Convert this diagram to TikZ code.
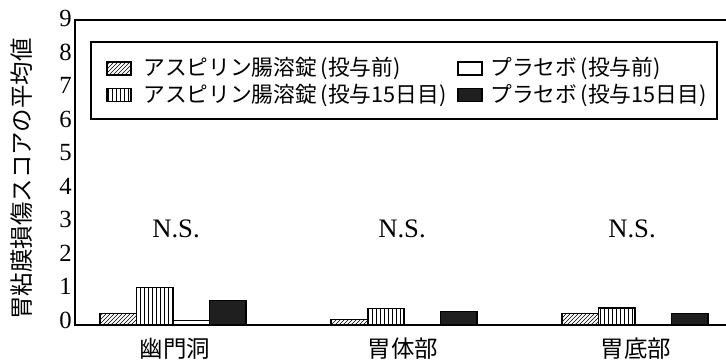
\documentclass[tikz,border=0pt]{standalone}
\usepackage{fontspec}
\setmainfont{Liberation Serif}
\newfontfamily\jpfont{Noto Sans CJK JP}
\usepackage{tikz}
\usetikzlibrary{patterns}

\begin{document}
\begin{tikzpicture}[x=0.75pt, y=0.75pt,
    hatchbar/.style={draw=black, line width=0.8pt, pattern=north east lines},
    stripebar/.style={draw=black, line width=0.8pt, pattern=vertical lines},
    whitebar/.style={draw=black, line width=0.8pt, fill=white},
    blackbar/.style={draw=black, line width=0.8pt, fill=black!88},
    ticklabel/.style={anchor=east, inner sep=0pt, font=\fontsize{18.5}{20}\selectfont},
    legtext/.style={anchor=west, inner sep=0pt, font=\jpfont\fontsize{16.3}{18}\selectfont},
    catlabel/.style={inner sep=0pt, font=\jpfont\fontsize{17.6}{20}\selectfont},
    nslabel/.style={inner sep=0pt, font=\fontsize{20}{22}\selectfont}]
\useasboundingbox (0,0) rectangle (726,360);

\node[rotate=90, catlabel] (ylabel) at (22, 181) {胃粘膜損傷スコアの平均値};
\node[ticklabel] (tick0) at (72, 40) {0};
\node[ticklabel] (tick1) at (72, 73.5) {1};
\node[ticklabel] (tick2) at (72, 107) {2};
\node[ticklabel] (tick3) at (72, 140.5) {3};
\node[ticklabel] (tick4) at (72, 174) {4};
\node[ticklabel] (tick5) at (72, 207.5) {5};
\node[ticklabel] (tick6) at (72, 241) {6};
\node[ticklabel] (tick7) at (72, 274.5) {7};
\node[ticklabel] (tick8) at (72, 308) {8};
\node[ticklabel] (tick9) at (72, 341.5) {9};

\draw[hatchbar] (100,35) rectangle (136.5,46.9);
\draw[stripebar] (136.5,35) rectangle (173,72.3);
\draw[whitebar] (173,35) rectangle (209.5,39.4);
\draw[blackbar] (209.5,35) rectangle (246,59.7);
\draw[hatchbar] (331,35) rectangle (367.5,40.1);
\draw[stripebar] (367.5,35) rectangle (404,51.3);
\draw[blackbar] (440.5,35) rectangle (477,48.6);
\draw[hatchbar] (562,35) rectangle (598.5,46.9);
\draw[stripebar] (598.5,35) rectangle (635,52);
\draw[blackbar] (671.5,35) rectangle (708,46.9);

\draw[line width=1.5pt] (726,35) -- (75,35) -- (75,340) -- (726,340);

\draw[line width=1.4pt, fill=white] (90.7,241) rectangle (717,318.3);
\draw[hatchbar] (107,285) rectangle (131,298);
\node[legtext] (leg1) at (143, 291.5) {アスピリン腸溶錠\,(投与前)};
\draw[stripebar] (107,258.5) rectangle (131,271.5);
\node[legtext] (leg2) at (143, 265) {アスピリン腸溶錠\,(投与15日目)};
\draw[whitebar] (458,285) rectangle (482,298);
\node[legtext] (leg3) at (490, 291.5) {プラセボ\,(投与前)};
\draw[blackbar] (458,258.5) rectangle (482,271.5);
\node[legtext] (leg4) at (490, 265) {プラセボ\,(投与15日目)};

\node[nslabel] (ns1) at (176, 131) {N.S.};
\node[nslabel] (ns2) at (402, 131) {N.S.};
\node[nslabel] (ns3) at (632, 131) {N.S.};

\node[catlabel] (cat1) at (175, 11) {幽門洞};
\node[catlabel] (cat2) at (403, 11) {胃体部};
\node[catlabel] (cat3) at (636, 11) {胃底部};

\end{tikzpicture}
\end{document}
